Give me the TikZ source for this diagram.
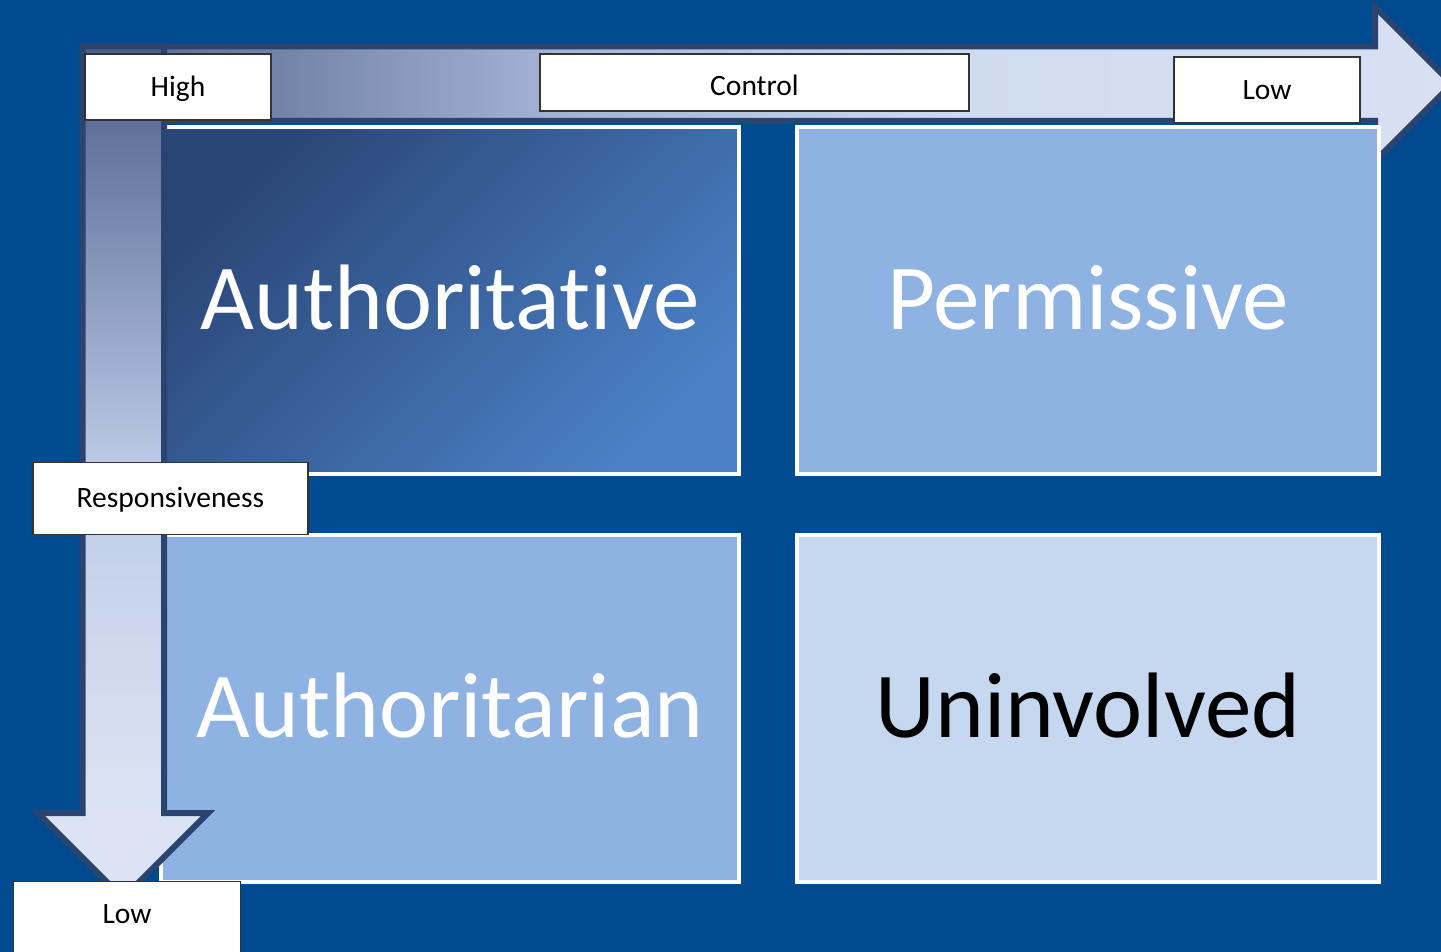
\documentclass[tikz,border=0pt]{standalone}
\usepackage{fontspec}
\setmainfont[Ligatures=NoCommon]{Carlito}
\usepackage{tikz}
\usetikzlibrary{positioning}

\definecolor{bgblue}{RGB}{0,74,143}
\definecolor{edgeblue}{RGB}{42,68,112}
\definecolor{midblue}{RGB}{142,178,226}
\definecolor{paleblue}{RGB}{198,216,240}
\definecolor{darkquad}{RGB}{42,70,118}
\definecolor{lightquad}{RGB}{74,128,198}

\definecolor{ctrlA}{RGB}{84,101,144}
\definecolor{ctrlB}{RGB}{115,131,168}
\definecolor{ctrlC}{RGB}{163,178,210}
\definecolor{ctrlD}{RGB}{207,219,240}
\definecolor{ctrlE}{RGB}{216,224,242}
\pgfdeclarehorizontalshading{ctrlshade}{100bp}{color(0bp)=(ctrlA); color(25bp)=(ctrlA); color(32bp)=(ctrlB); color(42bp)=(ctrlC); color(57bp)=(ctrlD); color(75bp)=(ctrlE); color(100bp)=(ctrlE)}

\definecolor{respA}{RGB}{74,92,138}
\definecolor{respB}{RGB}{190,204,232}
\definecolor{respC}{RGB}{220,228,243}
\pgfdeclareverticalshading{respshade}{100bp}{color(0bp)=(respC); color(30bp)=(respC); color(50bp)=(respB); color(75bp)=(respA); color(100bp)=(respA)}

\begin{document}
\begin{tikzpicture}[
            x = 1pt, y = -1pt,
            quad/.style = {
                draw = white,
                line width = 4pt,
                minimum width = #1,
                minimum height = 347pt,
                inner sep = 0pt,
                text = white,
                text height = 58pt,
                text depth = 0pt,
                font = \fontsize{93}{96}\selectfont
            },
            quad/.default = 578pt,
            tag/.style = {
                draw = black!80,
                fill = white,
                line width = 1.2pt,
                inner sep = 0pt,
                text height = 18.6pt,
                text depth = 0pt,
                font = \fontsize{29.5}{32}\selectfont
            },
            arrowbody/.style = {
                draw = edgeblue,
                line width = 6pt,
                line join = miter
            },
            node distance = {57pt and 54pt}
            ]
            \useasboundingbox (0,0) rectangle (1441,952);
            \fill[bgblue] (0,0) rectangle (1441,952);

            % control arrow
            \shadedraw[arrowbody, shading=ctrlshade] (82.5,46.5) -- (1375,46.5) -- (1375,7) -- (1452,84)
                -- (1375,161) -- (1375,121) -- (82.5,121) -- cycle;

            % the four styles
            \node[quad, top color=darkquad, bottom color=lightquad, shading angle=45] (authoritative) at (450,300.5) {Authoritative};
            \node[quad=582pt, fill=midblue, right=of authoritative] (permissive) {Permissive};
            \node[quad, fill=midblue, below=of authoritative] (authoritarian) {Authoritarian};
            \node[quad=582pt, fill=paleblue, text=black, right=of authoritarian] (uninvolved) {Uninvolved};

            % responsiveness arrow
            \shadedraw[arrowbody, shading=respshade] (82.5,46.5) -- (164,46.5) -- (164,813) -- (208,813)
                -- (123,898) -- (38,813) -- (82.5,813) -- cycle;

            \node[tag, minimum width=186pt, minimum height=66pt] (high) at (178,87) {High};
            \node[tag, minimum width=429pt, minimum height=57pt, text height=25.6pt] (control) at (754.5,82.5) {Control};
            \node[tag, minimum width=186pt, minimum height=66pt] (lowctrl) at (1267,90) {Low};
            \node[tag, minimum width=275pt, minimum height=72pt] (resp) at (170.5,498.5) {Responsiveness};
            \node[tag, minimum width=227pt, anchor=north, text height=42pt, text depth=40pt] (lowresp) at (127,881) {Low};
        \end{tikzpicture}
\end{document}
